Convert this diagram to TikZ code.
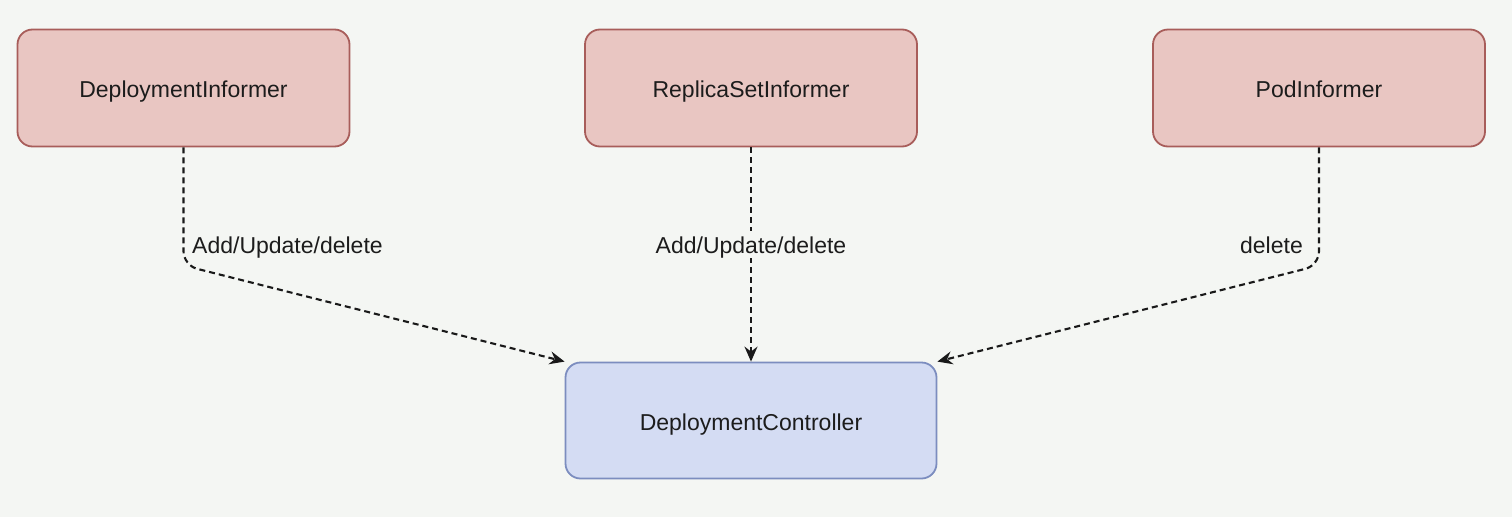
\documentclass[tikz,border=0pt]{standalone}
\usepackage{fontspec}
\setmainfont{Liberation Sans}
\usetikzlibrary{arrows.meta}
\definecolor{bgc}{HTML}{F4F6F3}
\definecolor{pinkfill}{HTML}{E9C6C2}
\definecolor{pinkline}{HTML}{A85D5A}
\definecolor{bluefill}{HTML}{D4DCF3}
\definecolor{blueline}{HTML}{7C8DBF}
\definecolor{txt}{HTML}{1C1C1C}
\begin{document}
\begin{tikzpicture}[x=1pt,y=1pt,
  boxtext/.style={text=txt, font=\fontsize{23}{27}\selectfont, text height=21pt, text depth=2pt},
  informer/.style={boxtext, draw=pinkline, fill=pinkfill, line width=1.8pt, rounded corners=15pt,
    minimum width=332pt, minimum height=117pt, inner sep=0pt},
  controller/.style={boxtext, draw=blueline, fill=bluefill, line width=1.8pt, rounded corners=15pt,
    minimum width=371pt, minimum height=116pt, inner sep=0pt},
  flow/.style={draw=black!90, line width=2.1pt, dash pattern=on 6pt off 4pt, rounded corners=14pt,
    -{Stealth[length=15pt,width=13pt,inset=5pt]}},
  lbl/.style={boxtext, inner sep=2pt}
]
\fill[bgc] (0,0) rectangle (1512,-517);
\useasboundingbox (0,0) rectangle (1512,-517);

\node[informer] (di) at (183.5,-88) {DeploymentInformer};
\node[informer] (rs) at (751,-88) {ReplicaSetInformer};
\node[informer] (pi) at (1319,-88) {PodInformer};
\node[controller] (dc) at (751,-420.5) {DeploymentController};

\draw[flow] (di.south) -- ++(0,-118) -- (dc.north west);
\draw[flow] (rs.south) -- (dc.north);
\draw[flow] (pi.south) -- ++(0,-118) -- (dc.north east);

\node[lbl, anchor=west] (l1) at (190,-244) {Add/Update/delete};
\node[lbl, fill=bgc] (l2) at (751,-244) {Add/Update/delete};
\node[lbl, anchor=east] (l3) at (1305,-244) {delete};
\end{tikzpicture}
\end{document}
